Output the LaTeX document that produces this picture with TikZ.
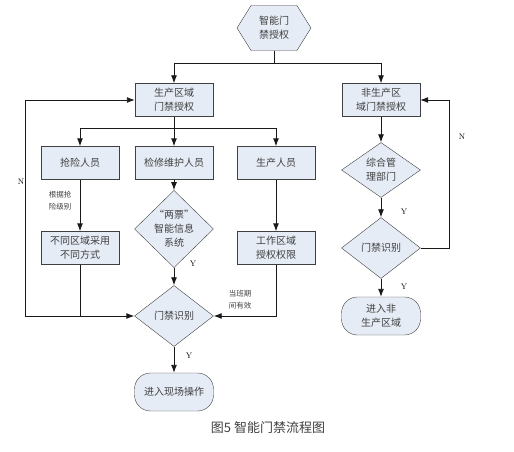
\documentclass[tikz,border=0pt]{standalone}
\usepackage{fontspec}
\newfontfamily\cjk{Noto Sans CJK SC}
\usetikzlibrary{arrows.meta,shapes.geometric,shapes.symbols}
\definecolor{boxfill}{HTML}{E6ECF6}
\definecolor{txtgray}{HTML}{404040}

\begin{document}
\begin{tikzpicture}[x=1pt,y=-1pt,
    every node/.style={text=txtgray,font=\cjk\fontsize{10}{14}\selectfont,align=center},
    box/.style={draw=black!75,fill=boxfill,minimum width=78pt,minimum height=33pt,inner sep=1pt},
    hexa/.style={draw=black!75,fill=boxfill,signal,signal to=west and east,signal pointer angle=116,minimum width=74pt,minimum height=45pt,inner sep=0pt},
    dia/.style={draw=black!75,fill=boxfill,diamond,minimum width=79pt,minimum height=61pt,inner sep=0pt},
    term/.style={draw=black!75,fill=boxfill,rounded corners=16pt,minimum width=79pt,minimum height=38pt,inner sep=1pt},
    note/.style={font=\cjk\fontsize{7.5}{12}\selectfont},
    yn/.style={font=\rmfamily\fontsize{8}{8}\selectfont,text=black},
    arr/.style={-{Latex[length=8pt,width=6pt]}},
    line/.style={draw=black!90,line width=0.9pt}]
  \useasboundingbox (0,0) rectangle (514,452);

  \node[hexa] (T) at (274,28) {智能门\\禁授权};
  \node[box] (P) at (174,100) {生产区域\\门禁授权};
  \node[box] (NP) at (381,100) {非生产区\\域门禁授权};

  \node[box] (E1) at (80,163) {抢险人员};
  \node[box] (E2) at (174,163) {检修维护人员};
  \node[box] (E3) at (276,163) {生产人员};
  \node[box] (F1) at (80,248) {不同区域采用\\不同方式};
  \node[dia] (S) at (174,229) {“两票”\\智能信息\\系统};
  \node[box] (F3) at (276,248) {工作区域\\授权权限};
  \node[dia] (G1) at (174,316) {门禁识别};
  \node[term] (O1) at (174,392) {进入现场操作};

  \node[dia,minimum height=55pt] (M) at (381,170) {综合管\\理部门};
  \node[dia] (G2) at (381,248) {门禁识别};
  \node[term] (O2) at (381,316) {进入非\\生产区域};

  \node[note] (n1) at (60,201) {根据抢\\险级别};
  \node[note] (n2) at (240,300) {当班期\\间有效};
  \node[yn] (y1) at (193,264) {Y};
  \node[yn] (y2) at (189,356) {Y};
  \node[yn] (y3) at (404,212) {Y};
  \node[yn] (y4) at (404,287) {Y};
  \node[yn] (N1) at (21,182) {N};
  \node[yn] (N2) at (462,137) {N};
  \node[font=\cjk\fontsize{13}{15}\selectfont] (cap) at (268,428) {图5\ 智能门禁流程图};

  \coordinate (j1) at (274,63);
  \coordinate (j2) at (174,128);
  \coordinate (lp) at (25,316);
  \coordinate (rp) at (449,100);

  \draw[line] (T.south) -- (j1);
  \draw[line,arr] (j1) -| (P.north);
  \draw[line,arr] (j1) -| (NP.north);
  \draw[line] (P.south) -- (j2);
  \draw[line,arr] (j2) -| (E1.north);
  \draw[line,arr] (j2) -- (E2.north);
  \draw[line,arr] (j2) -| (E3.north);

  \draw[line,arr] (E1) -- (F1);
  \draw[line,arr] (E2) -- (S);
  \draw[line,arr] (E3) -- (F3);
  \draw[line,arr] (S) -- (G1);
  \draw[line] (F1.south) -- (F1.south |- G1.west);
  \draw[line,arr] (lp) -- (G1.west);
  \draw[line,arr] (lp) |- (P.west);
  \draw[line,arr] (F3.south) |- (G1.east);
  \draw[line,arr] (G1) -- (O1);

  \draw[line,arr] (NP) -- (M);
  \draw[line,arr] (M) -- (G2);
  \draw[line,arr] (G2) -- (O2);
  \draw[line,arr] (G2.east) -| (rp) -- (NP.east);
\end{tikzpicture}
\end{document}
